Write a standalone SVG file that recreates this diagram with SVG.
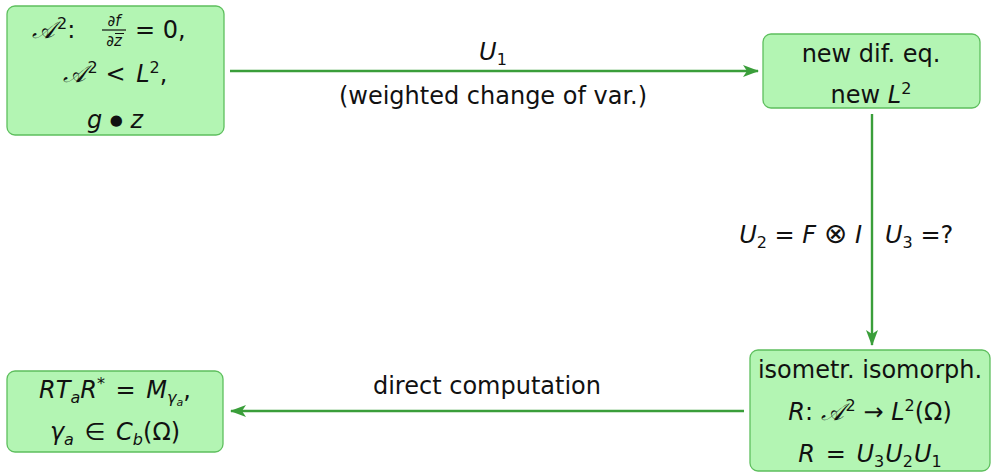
<svg xmlns="http://www.w3.org/2000/svg" width="991" height="472" viewBox="0 0 991 472">
<style>
.node{fill:#b3f5b3;stroke:#5ebf5e;stroke-width:1.3}
.t{font-family:"DejaVu Sans","Liberation Sans",sans-serif;font-size:24px;fill:#111}
.m{font-style:italic}
.sup{font-size:16px}
.frac{font-family:"DejaVu Sans","Liberation Sans",sans-serif;font-size:15px;font-style:italic;fill:#111}
.edge{stroke:#3a9e3a;stroke-width:2.4;fill:none}
</style>
<defs>
<marker id="ah" viewBox="0 0 16 12" refX="15" refY="6" markerWidth="16" markerHeight="12" markerUnits="userSpaceOnUse" orient="auto">
<path d="M0,0 L16,6 L0,12 L4,6 Z" fill="#3a9e3a"/>
</marker>
</defs>
<g id="edges">
<line class="edge" x1="230" y1="71" x2="758" y2="71" marker-end="url(#ah)"/>
<line class="edge" x1="872" y1="114" x2="872" y2="345" marker-end="url(#ah)"/>
<line class="edge" x1="744" y1="411" x2="231" y2="411" marker-end="url(#ah)"/>
<text class="t m" x="493" y="60" text-anchor="middle">U<tspan class="sup" font-style="normal" dy="5">1</tspan></text>
<text class="t" x="493" y="104" text-anchor="middle">(weighted change of var.)</text>
<text class="t" x="487" y="394" text-anchor="middle">direct computation</text>
<text class="t" x="862" y="243" text-anchor="end"><tspan class="m">U</tspan><tspan class="sup" dy="5">2</tspan><tspan dy="-5"> = </tspan><tspan class="m">F</tspan> <tspan font-size="28">⊗</tspan> <tspan class="m">I</tspan></text>
<text class="t" x="885" y="243"><tspan class="m">U</tspan><tspan class="sup" dy="5">3</tspan><tspan dy="-5"> =?</tspan></text>
</g>
<g id="node1">
<rect class="node" x="7" y="6" width="217" height="129" rx="8"/>
<text class="t" x="32" y="38"><tspan class="m">𝒜</tspan><tspan class="sup" dx="2" dy="-9">2</tspan><tspan dy="9">:</tspan></text>
<text class="frac" x="114" y="26" text-anchor="middle">∂f</text>
<line x1="102" y1="30" x2="126" y2="30" stroke="#111" stroke-width="1.2"/>
<text class="frac" x="114" y="46" text-anchor="middle">∂z</text>
<line x1="115" y1="33.5" x2="124" y2="33.5" stroke="#111" stroke-width="1"/>
<text class="t" x="135" y="38">= 0,</text>
<text class="t" x="115" y="82" text-anchor="middle"><tspan class="m">𝒜</tspan><tspan class="sup" dx="2" dy="-9">2</tspan><tspan dy="9"> &lt; </tspan><tspan class="m" dx="3">L</tspan><tspan class="sup" dy="-9">2</tspan><tspan dy="9">,</tspan></text>
<text class="t" x="115" y="128" text-anchor="middle"><tspan class="m">g</tspan> <tspan font-size="15" dy="-3">●</tspan> <tspan class="m" dy="3">z</tspan></text>
</g>
<g id="node2">
<rect class="node" x="763" y="34" width="217" height="74" rx="8"/>
<text class="t" x="871" y="62" text-anchor="middle">new dif. eq.</text>
<text class="t" x="871" y="103" text-anchor="middle">new <tspan class="m">L</tspan><tspan class="sup" dy="-9">2</tspan></text>
</g>
<g id="node3">
<rect class="node" x="750" y="350" width="240" height="121" rx="8"/>
<text class="t" x="870" y="378" text-anchor="middle">isometr. isomorph.</text>
<text class="t" x="870" y="420" text-anchor="middle"><tspan class="m">R</tspan>: <tspan class="m">𝒜</tspan><tspan class="sup" dx="2" dy="-9">2</tspan><tspan dy="9"> → </tspan><tspan class="m">L</tspan><tspan class="sup" dy="-9">2</tspan><tspan dy="9">(Ω)</tspan></text>
<text class="t" x="870" y="462" text-anchor="middle"><tspan class="m">R</tspan><tspan dx="3"> = </tspan><tspan class="m" dx="3">U</tspan><tspan class="sup" dy="5">3</tspan><tspan class="m" dy="-5" dx="1">U</tspan><tspan class="sup" dy="5">2</tspan><tspan class="m" dy="-5" dx="1">U</tspan><tspan class="sup" dy="5">1</tspan></text>
</g>
<g id="node4">
<rect class="node" x="7" y="371" width="216" height="81" rx="8"/>
<text class="t" x="115" y="398" text-anchor="middle"><tspan class="m">RT</tspan><tspan class="sup m" dy="5">a</tspan><tspan class="m" dy="-5">R</tspan><tspan class="sup" dy="-9">*</tspan><tspan dy="9" dx="3"> = </tspan><tspan class="m" dx="3">M</tspan><tspan class="sup m" dy="5">γ</tspan><tspan class="m" font-size="11" dy="3">a</tspan><tspan dy="-8">,</tspan></text>
<text class="t" x="115" y="440" text-anchor="middle"><tspan class="m">γ</tspan><tspan class="sup m" dy="5">a</tspan><tspan dy="-5" dx="3"> ∈ </tspan><tspan class="m" dx="3">C</tspan><tspan class="sup m" dy="5">b</tspan><tspan dy="-5">(Ω)</tspan></text>
</g>
</svg>
